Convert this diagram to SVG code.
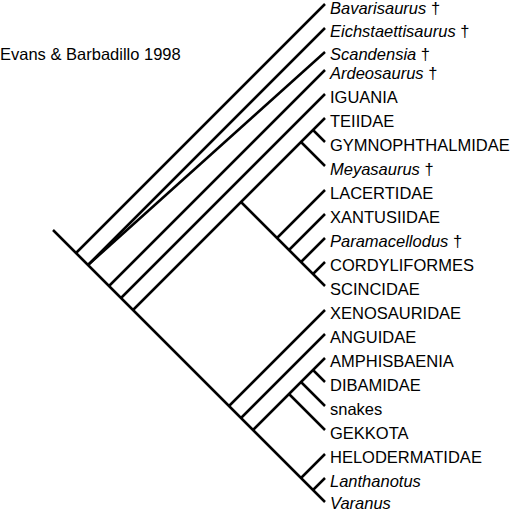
<svg xmlns="http://www.w3.org/2000/svg" width="510" height="510" viewBox="0 0 510 510">
<style>
.e{stroke:#000;stroke-width:2.5;fill:none;stroke-linecap:butt}
text{font-family:"Liberation Sans",Arial,sans-serif;font-size:16.5px;fill:#000}
.i{font-style:italic}
.n{font-style:normal}
</style>
<rect width="510" height="510" fill="#fff"/>
<text id="title" x="0" y="60">Evans &amp; Barbadillo 1998</text>
<g id="connectors" class="e">
<line x1="53" y1="230" x2="325" y2="502"/>
<line x1="76" y1="253" x2="325" y2="4"/>
<line x1="88" y1="265" x2="325" y2="28"/>
<line x1="88" y1="265" x2="325" y2="52"/>
<line x1="109" y1="286" x2="325" y2="70"/>
<line x1="121" y1="298" x2="325" y2="94"/>
<line x1="133" y1="310" x2="325" y2="118"/>
<line x1="301" y1="142" x2="325" y2="166"/>
<line x1="313" y1="130" x2="325" y2="142"/>
<line x1="241" y1="202" x2="325" y2="286"/>
<line x1="277" y1="238" x2="325" y2="190"/>
<line x1="289" y1="250" x2="325" y2="214"/>
<line x1="301" y1="262" x2="325" y2="238"/>
<line x1="313" y1="274" x2="325" y2="262"/>
<line x1="229" y1="406" x2="325" y2="310"/>
<line x1="241" y1="418" x2="325" y2="334"/>
<line x1="253" y1="430" x2="325" y2="358"/>
<line x1="289" y1="394" x2="325" y2="430"/>
<line x1="301" y1="382" x2="325" y2="406"/>
<line x1="313" y1="370" x2="325" y2="382"/>
<line x1="301" y1="478" x2="325" y2="454"/>
<line x1="313" y1="490" x2="325" y2="478"/>
</g>
<g id="bavarisaurus"><text class="i" x="330" y="14">Bavarisaurus<tspan class="n"> †</tspan></text></g>
<g id="eichstaettisaurus"><text class="i" x="330" y="37">Eichstaettisaurus<tspan class="n"> †</tspan></text></g>
<g id="scandensia"><text class="i" x="330" y="60">Scandensia<tspan class="n"> †</tspan></text></g>
<g id="ardeosaurus"><text class="i" x="330" y="79">Ardeosaurus<tspan class="n"> †</tspan></text></g>
<g id="iguania"><text x="330" y="102.5">IGUANIA</text></g>
<g id="teiidae"><text x="330" y="126.5">TEIIDAE</text></g>
<g id="gymnophthalmidae"><text x="330" y="150.5">GYMNOPHTHALMIDAE</text></g>
<g id="meyasaurus"><text class="i" x="330" y="174.5">Meyasaurus<tspan class="n"> †</tspan></text></g>
<g id="lacertidae"><text x="330" y="198.5">LACERTIDAE</text></g>
<g id="xantusiidae"><text x="330" y="222.5">XANTUSIIDAE</text></g>
<g id="paramacellodus"><text class="i" x="330" y="246.5">Paramacellodus<tspan class="n"> †</tspan></text></g>
<g id="cordyliformes"><text x="330" y="270.5">CORDYLIFORMES</text></g>
<g id="scincidae"><text x="330" y="294.5">SCINCIDAE</text></g>
<g id="xenosauridae"><text x="330" y="318.5">XENOSAURIDAE</text></g>
<g id="anguidae"><text x="330" y="342.5">ANGUIDAE</text></g>
<g id="amphisbaenia"><text x="330" y="366.5">AMPHISBAENIA</text></g>
<g id="dibamidae"><text x="330" y="390.5">DIBAMIDAE</text></g>
<g id="snakes"><text x="330" y="414.5">snakes</text></g>
<g id="gekkota"><text x="330" y="438.5">GEKKOTA</text></g>
<g id="helodermatidae"><text x="330" y="462.5">HELODERMATIDAE</text></g>
<g id="lanthanotus"><text class="i" x="330" y="486.5">Lanthanotus</text></g>
<g id="varanus"><text class="i" x="330" y="508.5">Varanus</text></g>
</svg>
